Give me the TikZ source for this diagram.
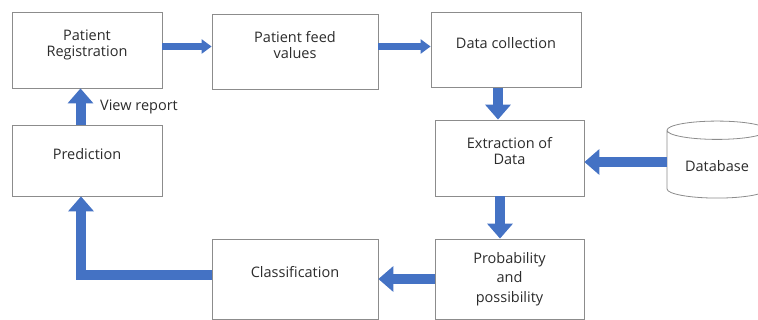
\documentclass[tikz,border=0pt]{standalone}
\usepackage{fontspec}
\setmainfont{Open Sans}
\usetikzlibrary{arrows.meta,shapes.geometric,positioning}

\definecolor{arrowblue}{HTML}{4472C4}
\definecolor{boxgray}{HTML}{8C8C8C}
\definecolor{textgray}{HTML}{2B2B2B}

\tikzset{
    box/.style={draw=boxgray, line width=0.8pt, align=center, text=textgray,
        font=\fontsize{14.5}{16.5}\selectfont, text depth=14pt},
    dbase/.style={cylinder, shape border rotate=90, aspect=0.26, draw=boxgray,
        line width=0.8pt, text=textgray, font=\fontsize{14.5}{16.5}\selectfont,
        minimum width=100pt, minimum height=77pt},
    flow/.style={draw=arrowblue, line width=10pt, -{Triangle[width=25pt,length=15pt]}},
    thinflow/.style={draw=arrowblue, line width=7pt, -{Triangle[width=14pt,length=10pt]}}
}

\begin{document}
\begin{tikzpicture}[x=1pt, y=-1pt]
    \useasboundingbox (0,0) rectangle (758,320);

    % boxes
    \node[box, minimum width=150pt, minimum height=76pt] (reg) at (87,50) {Patient\\Registration};
    \node[box, minimum width=166pt, minimum height=75pt] (feed) at (295,52) {Patient feed\\values};
    \node[box, minimum width=150pt, minimum height=75pt] (collect) at (506,50) {Data collection};
    \node[box, minimum width=149pt, minimum height=76pt] (extract) at (509.5,158) {Extraction of\\Data};
    \node[box, minimum width=149pt, minimum height=80pt, text depth=,
        font=\fontsize{14.5}{19.5}\selectfont] (prob) at (509.5,279) {Probability\\and\\possibility};
    \node[box, minimum width=166pt, minimum height=80pt] (classify) at (295,279) {Classification};
    \node[box, minimum width=150pt, minimum height=71pt] (predict) at (87,160.5) {Prediction};
    \node[dbase] (db) at (717,166) {Database};
    \node[text=textgray, font=\fontsize{14.5}{16.5}\selectfont] (report) at (139,107) {View report};

    % connectors
    \draw[thinflow] ([yshift=3.5pt]reg.east) -- ([yshift=3.5pt]reg.east -| feed.west);
    \draw[thinflow] ([yshift=5.5pt]feed.east) -- ([yshift=5.5pt]feed.east -| collect.west);
    \draw[flow] ([xshift=-8pt]collect.south) -- ([xshift=-8pt]collect.south |- extract.north);
    \draw[flow] ([yshift=4pt]db.west) -- ([yshift=4pt]db.west -| extract.east);
    \draw[flow] ([xshift=-9.5pt]extract.south) -- ([xshift=-9.5pt]extract.south |- prob.north);
    \draw[flow] (prob.west) -- (prob.west -| classify.east);
    \draw[flow] ([yshift=4pt]classify.west) -| ([xshift=-6pt]predict.south);
    \draw[flow] ([xshift=-6.5pt]predict.north) -- ([xshift=-6.5pt]predict.north |- reg.south);
\end{tikzpicture}
\end{document}
